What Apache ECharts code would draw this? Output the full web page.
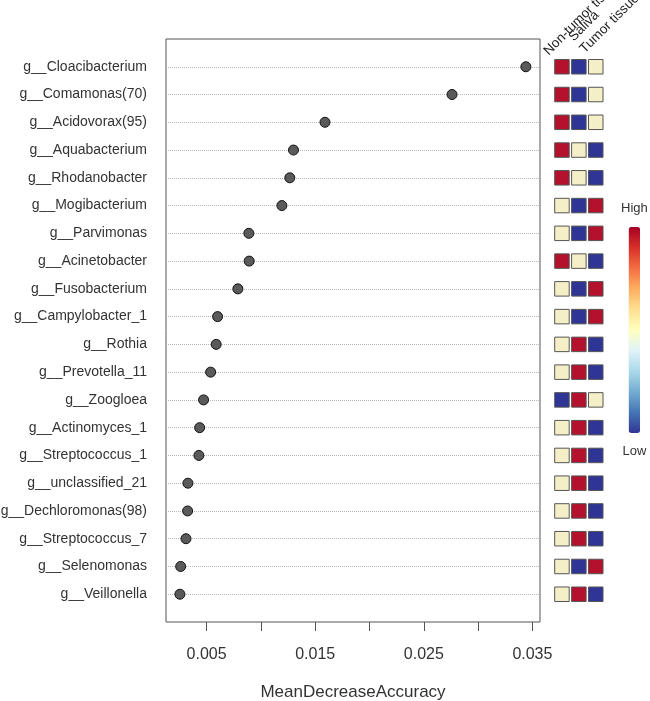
<!DOCTYPE html>
<html>
<head>
<meta charset="utf-8">
<script src="https://cdn.jsdelivr.net/npm/echarts@6/dist/echarts.min.js"></script>
<style>html,body{margin:0;padding:0;background:#fff}#c{width:650px;height:701px}</style>
</head>
<body>
<div id="c"></div>
<script>
const genera = ['g__Cloacibacterium','g__Comamonas(70)','g__Acidovorax(95)','g__Aquabacterium','g__Rhodanobacter','g__Mogibacterium','g__Parvimonas','g__Acinetobacter','g__Fusobacterium','g__Campylobacter_1','g__Rothia','g__Prevotella_11','g__Zoogloea','g__Actinomyces_1','g__Streptococcus_1','g__unclassified_21','g__Dechloromonas(98)','g__Streptococcus_7','g__Selenomonas','g__Veillonella'];
const meanDecreaseAccuracy = [0.0344,0.0276,0.0159,0.0130,0.01266,0.01193,0.00889,0.00892,0.00788,0.00601,0.00588,0.00537,0.00472,0.00436,0.00429,0.00328,0.00325,0.0031,0.00261,0.00254];
const groups = ['Non-tumor tissue','Saliva','Tumor tissue'];
// 1 = high, 0 = middle, -1 = low
const nonTumor = [1,1,1,1,1,0,0,1,0,0,0,0,-1,0,0,0,0,0,0,0];
const saliva   = [-1,-1,-1,0,0,-1,-1,0,-1,-1,1,1,1,1,1,1,1,1,-1,1];
const tumor    = [0,0,0,-1,-1,1,1,-1,1,1,-1,-1,0,-1,-1,-1,-1,-1,1,-1];
const xTicks = [0.005,0.010,0.015,0.020,0.025,0.030,0.035];
const xLabels = [0.005,0.015,0.025,0.035];
const legendEnds = ['High','Low'];

const levelColor = {'1':'#B3112C','0':'#F5EFC8','-1':'#2F3595'};
const rampColors = ['#313695','#4575b4','#74add1','#abd9e9','#e0f3f8','#ffffbf','#fee090','#fdae61','#f46d43','#d73027','#a50026'];

const dots = meanDecreaseAccuracy.map((v,i)=>[v,i+1]);
const cells = [];
[nonTumor,saliva,tumor].forEach((arr,c)=>{
  arr.forEach((lv,i)=>{
    cells.push({value:[c,i+1,lv], itemStyle:{color:levelColor[String(lv)]}});
  });
});

const chart = echarts.init(document.getElementById('c'), null, {renderer:'canvas'});
const font = 'Liberation Sans, Arial, sans-serif';
const hdr = (t,x,y)=>({type:'text', x:x, y:y, rotation:Math.PI/4, silent:true,
  style:{text:t, fontSize:13.5, fontFamily:font, fill:'#222', textAlign:'left', textVerticalAlign:'bottom'}});
chart.setOption({
  animation:false,
  textStyle:{fontFamily:font},
  grid:[
    {left:166, top:39, width:374, height:583, show:true, borderColor:'#555', borderWidth:1, backgroundColor:'transparent', containLabel:false, outerBoundsMode:'none'},
    {left:553.5, top:39, width:50.7, height:583, show:false, containLabel:false, outerBoundsMode:'none'}
  ],
  xAxis:[
    {gridIndex:0, type:'value', min:0.00126, max:0.0357, position:'bottom',
     axisLine:{show:false, onZero:false},
     axisTick:{show:true, inside:false, length:9, lineStyle:{color:'#555'}, customValues:xTicks},
     axisLabel:{customValues:xLabels, fontSize:16, color:'#333', margin:25, formatter:v=>v.toFixed(3)},
     splitLine:{show:false},
     name:'MeanDecreaseAccuracy', nameLocation:'middle', nameGap:62,
     nameTextStyle:{fontSize:17, color:'#333'}},
    {gridIndex:1, type:'category', data:groups, show:false, axisLine:{onZero:false}}
  ],
  yAxis:[
    {gridIndex:0, type:'value', min:0, max:21, interval:1, inverse:true,
     axisLine:{show:false, onZero:false}, axisTick:{show:false},
     axisLabel:{fontSize:14, color:'#333', margin:19,
       formatter:v=>(v>=1&&v<=genera.length)?genera[v-1]:''},
     splitLine:{show:true, showMinLine:false, showMaxLine:false, lineStyle:{type:'dotted', color:'#b8b8b8', width:1}}},
    {gridIndex:1, type:'value', min:0, max:21, inverse:true, show:false}
  ],
  visualMap:{
    type:'continuous', min:-1, max:1, seriesIndex:2, calculable:false, hoverLink:false,
    orient:'vertical', left:621, top:202, padding:0, itemWidth:11.5, itemHeight:206,
    text:legendEnds, textGap:12, textStyle:{fontSize:13, color:'#333'},
    inRange:{color:rampColors}
  },
  graphic:[
    hdr(groups[0],551,58),
    hdr(groups[1],576,44),
    hdr(groups[2],587,56)
  ],
  series:[
    {type:'scatter', xAxisIndex:0, yAxisIndex:0, data:dots, symbol:'circle', symbolSize:10,
     itemStyle:{color:'#5a5a5a', borderColor:'#111', borderWidth:1, opacity:1}, z:3},
    {type:'scatter', xAxisIndex:1, yAxisIndex:1, data:cells, symbol:'rect', symbolSize:[14.5,14.5],
     itemStyle:{borderColor:'#555', borderWidth:1, opacity:1}},
    {type:'scatter', xAxisIndex:1, yAxisIndex:1, data:[], silent:true}
  ]
});
</script>
</body>
</html>
